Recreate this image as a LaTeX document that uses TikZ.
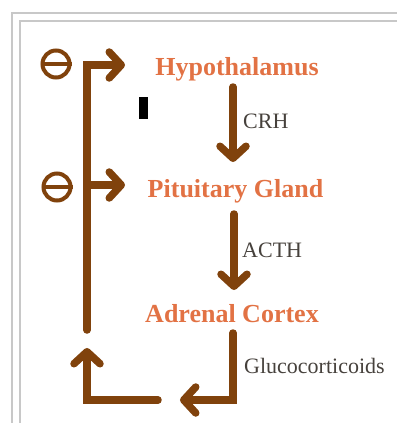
\documentclass[tikz,border=0pt]{standalone}
\usepackage{fontspec}
\setmainfont{Liberation Serif}
\usetikzlibrary{arrows.meta,shapes.geometric}
\definecolor{brn}{RGB}{128,66,12}
\definecolor{org}{RGB}{226,114,68}
\definecolor{lbl}{RGB}{70,65,60}
\definecolor{frm}{RGB}{200,200,200}
\tikzset{
  organ/.style={anchor=base, text=org, font=\bfseries\fontsize{26}{30}\selectfont, inner sep=0pt},
  hormone/.style={anchor=base west, text=lbl, font=\fontsize{22}{26}\selectfont, inner sep=0pt},
  arr/.style={draw=brn, line width=7.5pt, line cap=round, -{Straight Barb[length=12pt,width=26pt,round]}},
  minus/.style={ellipse, draw=brn, line width=4pt, minimum width=27pt, minimum height=27pt, inner sep=0pt},
  frame/.style={draw=frm, line width=1.3pt}
}
\begin{document}
\begin{tikzpicture}[x=1pt,y=-1pt]
\useasboundingbox (0,0) rectangle (397,423);
% frames
\draw[frame] (12,423) -- (12,13) -- (397,13);
\draw[frame] (20,423) -- (20,21) -- (397,21);
% organs
\node[organ] (hyp) at (237,75) {Hypothalamus};
\node[organ] (pit) at (235.5,197) {Pituitary Gland};
\node[organ] (adr) at (232,322) {Adrenal Cortex};
% hormone labels
\node[hormone] (crh) at (243,128) {CRH};
\node[hormone] (acth) at (242,257) {ACTH};
\node[hormone] (gc) at (244,373) {Glucocorticoids};
% black mark
\fill[black] (139,97) rectangle (148,119);
% arrows down
\coordinate (crhS) at (233,87);
\coordinate (crhE) at (233,162);
\draw[arr] (crhS) -- (crhE);
\coordinate (acthS) at (234,214);
\coordinate (acthE) at (234,290);
\draw[arr] (acthS) -- (acthE);
% feedback loop
\coordinate (gcS) at (233,333);
\coordinate (gcE) at (180,400);
\draw[arr] (gcS) |- (gcE);
\coordinate (fbS) at (158,400);
\coordinate (fbE) at (87,348);
\draw[arr] (fbS) -| (fbE);
\coordinate (upS) at (87,330);
\coordinate (hypIn) at (125,65);
\draw[arr] (upS) |- (hypIn);
\coordinate (br) at (87,185);
\coordinate (pitIn) at (125,185);
\draw[arr] (br) -- (pitIn);
% inhibition signs
\node[minus] (m1) at (56,64) {};
\draw[draw=brn, line width=4pt] (m1.west) -- (m1.east);
\node[minus] (m2) at (57,187) {};
\draw[draw=brn, line width=4pt] (m2.west) -- (m2.east);
\end{tikzpicture}
\end{document}
